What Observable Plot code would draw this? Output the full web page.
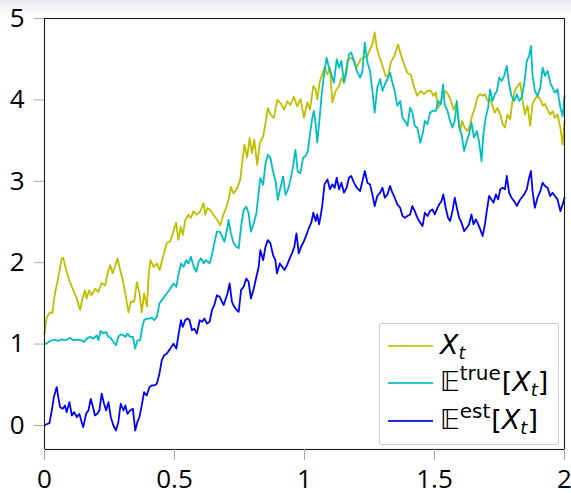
<!DOCTYPE html>
<html>
<head>
<meta charset="utf-8">
<script src="https://cdn.jsdelivr.net/npm/d3@7"></script>
<script src="https://cdn.jsdelivr.net/npm/@observablehq/plot@0.6"></script>
<style>
  html, body { margin: 0; padding: 0; }
  body { width: 571px; height: 493px; background: linear-gradient(to bottom, #e8eaf4 0px, #ffffff 16px, #ffffff 100%); overflow: hidden; }
  #wrap { position: relative; width: 571px; height: 493px; }
  #legend { position: absolute; left: 379px; top: 323px; width: 178px; height: 120px; border: 1px solid #cfcfcf; border-radius: 2px; background: rgba(255,255,255,0.9); font-family: "DejaVu Sans", sans-serif; color: #000; }
  .entry { position: absolute; left: 8px; height: 36px; display: flex; align-items: center; white-space: nowrap; }
  .swatch { display: inline-block; width: 45px; height: 2px; margin-right: 7px; opacity: 0.85; }
  .lab { font-size: 27px; line-height: 36px; }
  .lab i { font-style: oblique; }
  .lab .sb { font-size: 18px; position: relative; top: 5px; }
  .lab .sp { font-size: 20px; position: relative; top: -11px; margin-right: 1px; }
</style>
</head>
<body>
<div id="wrap"></div>
<script>
const seriesNames = ["X_t", "E_true", "E_est"];
const seriesColors = ["#bfbf00", "#00bfbf", "#0000ff"];
const xTicks = [0, 0.5, 1, 1.5, 2];
const xTickLabels = ["0", "0.5", "1", "1.5", "2"];
const yTicks = [0, 1, 2, 3, 4, 5];
const yTickLabels = ["0", "1", "2", "3", "4", "5"];

const xtT = [0,0.008,0.021,0.03,0.04,0.053,0.066,0.072,0.083,0.098,0.111,0.124,0.137,0.146,0.156,0.162,0.172,0.181,0.195,0.207,0.22,0.233,0.246,0.253,0.262,0.271,0.281,0.291,0.301,0.311,0.323,0.332,0.345,0.355,0.365,0.374,0.383,0.394,0.4,0.407,0.42,0.433,0.443,0.452,0.46,0.47,0.484,0.497,0.506,0.515,0.524,0.532,0.541,0.554,0.563,0.573,0.586,0.599,0.612,0.618,0.627,0.637,0.65,0.663,0.676,0.689,0.699,0.708,0.717,0.727,0.74,0.753,0.76,0.769,0.779,0.789,0.798,0.807,0.818,0.828,0.841,0.85,0.859,0.869,0.882,0.895,0.908,0.921,0.934,0.946,0.959,0.972,0.985,0.998,1.011,1.021,1.034,1.043,1.049,1.059,1.068,1.077,1.088,1.098,1.107,1.12,1.133,1.142,1.152,1.165,1.178,1.19,1.201,1.216,1.229,1.242,1.252,1.261,1.27,1.278,1.287,1.3,1.312,1.321,1.332,1.345,1.36,1.37,1.383,1.396,1.409,1.422,1.434,1.447,1.46,1.473,1.486,1.496,1.505,1.514,1.524,1.534,1.543,1.552,1.563,1.573,1.582,1.591,1.599,1.607,1.616,1.627,1.637,1.646,1.655,1.665,1.676,1.685,1.694,1.704,1.714,1.723,1.732,1.742,1.753,1.762,1.771,1.781,1.791,1.8,1.809,1.819,1.83,1.839,1.848,1.858,1.868,1.877,1.886,1.896,1.907,1.916,1.925,1.935,1.945,1.954,1.963,1.973,1.984,1.993,2.0];
const xtV = [1.12,1.32,1.39,1.38,1.62,1.82,2.05,2.06,1.91,1.76,1.66,1.56,1.42,1.56,1.66,1.56,1.66,1.6,1.68,1.64,1.75,1.72,1.91,1.97,1.87,1.95,2.05,1.91,1.79,1.62,1.39,1.52,1.52,1.76,1.63,1.39,1.62,1.46,1.82,2.03,1.95,1.99,1.91,2.03,2.12,2.24,2.26,2.4,2.49,2.28,2.44,2.34,2.52,2.59,2.55,2.63,2.59,2.63,2.73,2.59,2.67,2.65,2.59,2.53,2.46,2.6,2.68,2.77,2.93,2.85,2.91,3.02,3.22,3.45,3.29,3.53,3.35,3.51,3.2,3.47,3.55,3.72,3.9,3.82,3.78,4.0,3.96,3.88,3.98,3.94,4.04,3.92,4.01,3.78,3.97,3.88,4.17,4.13,4.01,4.23,4.31,4.4,4.31,4.4,3.97,4.11,4.17,4.27,4.21,4.48,4.52,4.48,4.4,4.5,4.52,4.54,4.62,4.68,4.83,4.64,4.54,4.42,4.29,4.29,4.46,4.54,4.68,4.56,4.44,4.33,4.31,4.15,4.05,4.11,4.07,4.11,4.11,4.05,4.09,3.9,3.97,4.05,4.11,4.07,3.99,3.88,3.95,3.78,3.62,3.74,3.66,3.62,3.7,3.82,3.9,4.03,4.07,4.05,4.07,3.99,4.01,3.93,3.84,3.9,3.82,3.7,3.66,3.82,3.76,3.99,4.11,4.17,4.21,3.99,3.82,3.93,3.68,3.95,4.01,4.05,4.01,3.93,3.95,3.88,3.82,3.86,3.78,3.82,3.66,3.45,3.74];

const trueT = [0,0.006,0.021,0.04,0.053,0.066,0.079,0.098,0.111,0.126,0.143,0.152,0.162,0.175,0.188,0.201,0.207,0.216,0.227,0.237,0.246,0.255,0.265,0.275,0.284,0.293,0.304,0.311,0.319,0.329,0.34,0.349,0.357,0.368,0.374,0.383,0.393,0.404,0.413,0.422,0.432,0.442,0.451,0.46,0.47,0.484,0.496,0.507,0.516,0.525,0.535,0.545,0.554,0.563,0.574,0.584,0.593,0.602,0.612,0.62,0.635,0.644,0.653,0.663,0.674,0.683,0.692,0.702,0.708,0.717,0.728,0.738,0.747,0.756,0.766,0.776,0.785,0.794,0.805,0.815,0.824,0.83,0.841,0.85,0.859,0.869,0.879,0.889,0.897,0.907,0.918,0.927,0.936,0.946,0.956,0.965,0.974,0.984,0.995,1.004,1.013,1.021,1.03,1.036,1.043,1.049,1.056,1.065,1.075,1.085,1.094,1.103,1.113,1.124,1.133,1.142,1.152,1.162,1.171,1.18,1.19,1.201,1.214,1.223,1.232,1.242,1.252,1.261,1.27,1.28,1.291,1.3,1.309,1.319,1.329,1.338,1.347,1.357,1.368,1.377,1.386,1.396,1.406,1.415,1.424,1.434,1.445,1.454,1.463,1.473,1.483,1.492,1.505,1.514,1.524,1.533,1.539,1.55,1.56,1.569,1.578,1.586,1.595,1.604,1.614,1.624,1.633,1.642,1.652,1.663,1.672,1.681,1.688,1.697,1.706,1.714,1.723,1.732,1.74,1.749,1.758,1.768,1.778,1.787,1.796,1.806,1.817,1.826,1.835,1.845,1.855,1.864,1.871,1.877,1.886,1.896,1.907,1.916,1.925,1.935,1.945,1.954,1.963,1.973,1.984,1.993,2.0];
const trueV = [1.0,1.005,1.038,1.055,1.038,1.059,1.046,1.075,1.046,1.055,1.046,1.026,1.067,1.088,1.067,1.108,1.046,1.161,1.129,1.149,1.088,1.075,1.026,0.985,1.088,1.12,1.108,1.088,1.129,1.088,1.088,0.944,1.046,1.046,1.17,1.293,1.313,1.313,1.326,1.293,1.334,1.498,1.539,1.58,1.621,1.683,1.745,1.704,1.868,1.991,1.95,2.032,1.991,2.073,1.95,1.889,2.012,2.053,1.991,2.032,1.991,2.094,2.237,2.381,2.381,2.32,2.258,2.401,2.525,2.36,2.237,2.196,2.176,2.443,2.648,2.689,2.607,2.381,2.484,2.607,2.874,3.038,2.956,3.222,3.325,3.284,3.12,2.997,2.771,2.915,3.058,2.833,2.894,3.017,3.181,3.387,3.12,3.1,3.29,3.31,3.372,3.577,3.782,3.864,3.7,3.475,3.7,4.028,4.315,4.52,4.397,4.315,4.213,4.5,4.397,4.479,4.213,4.356,4.561,4.582,4.479,4.356,4.274,4.356,4.705,4.459,4.356,4.11,3.843,4.151,4.254,4.11,4.192,4.254,4.336,4.213,4.11,3.926,3.987,3.782,3.741,3.68,3.905,3.843,3.68,3.659,3.475,3.577,3.741,3.7,3.843,3.864,3.864,3.987,3.946,4.192,3.946,3.864,3.741,3.659,3.741,3.987,3.659,3.577,3.372,3.495,3.577,3.721,3.536,3.618,3.475,3.249,3.577,3.782,3.905,4.13,3.987,4.069,4.11,4.274,4.233,4.295,4.417,4.192,4.049,3.987,4.069,3.987,4.028,4.192,4.479,4.54,4.664,4.315,4.11,4.049,4.151,4.397,4.295,4.356,4.213,4.151,4.09,4.13,3.905,3.8,4.05];

const estT = [0,0.006,0.019,0.028,0.036,0.047,0.053,0.06,0.07,0.079,0.085,0.096,0.105,0.114,0.124,0.134,0.143,0.149,0.16,0.169,0.178,0.188,0.194,0.203,0.211,0.22,0.229,0.237,0.246,0.255,0.265,0.275,0.284,0.293,0.304,0.311,0.319,0.329,0.34,0.349,0.357,0.365,0.374,0.383,0.393,0.404,0.413,0.422,0.432,0.442,0.451,0.46,0.47,0.484,0.496,0.507,0.516,0.525,0.532,0.541,0.55,0.558,0.567,0.576,0.586,0.597,0.606,0.615,0.625,0.635,0.644,0.653,0.663,0.674,0.683,0.689,0.695,0.704,0.712,0.721,0.73,0.74,0.747,0.756,0.766,0.776,0.785,0.794,0.805,0.815,0.824,0.83,0.841,0.85,0.859,0.869,0.879,0.888,0.894,0.905,0.914,0.923,0.933,0.943,0.952,0.961,0.969,0.978,0.987,0.998,1.008,1.017,1.026,1.034,1.043,1.049,1.056,1.062,1.068,1.077,1.088,1.098,1.107,1.116,1.124,1.133,1.142,1.152,1.162,1.171,1.18,1.19,1.201,1.214,1.223,1.232,1.242,1.252,1.261,1.27,1.28,1.291,1.3,1.309,1.319,1.329,1.338,1.347,1.357,1.368,1.377,1.386,1.396,1.406,1.415,1.424,1.434,1.445,1.454,1.463,1.473,1.483,1.492,1.501,1.509,1.518,1.527,1.534,1.543,1.552,1.56,1.569,1.578,1.586,1.595,1.604,1.614,1.624,1.633,1.642,1.65,1.659,1.668,1.676,1.685,1.694,1.701,1.71,1.719,1.727,1.736,1.745,1.753,1.762,1.771,1.778,1.787,1.796,1.806,1.817,1.826,1.835,1.845,1.855,1.864,1.871,1.877,1.886,1.896,1.907,1.916,1.925,1.935,1.945,1.954,1.963,1.973,1.984,1.993,2.0];
const estV = [0.0,0.012,0.028,0.184,0.349,0.472,0.349,0.225,0.205,0.246,0.164,0.287,0.123,0.164,0.102,0.143,0.041,-0.021,0.143,0.184,0.328,0.205,0.123,0.143,0.184,0.39,0.267,0.184,0.287,0.102,0.0,-0.062,0.041,0.267,0.184,0.246,0.143,0.184,0.205,-0.062,0.041,0.102,0.246,0.41,0.369,0.472,0.492,0.492,0.513,0.636,0.8,0.862,0.882,0.944,1.006,0.944,1.129,1.293,1.211,1.293,1.314,1.293,1.17,1.19,1.129,1.293,1.273,1.314,1.252,1.273,1.416,1.478,1.601,1.58,1.519,1.478,1.539,1.621,1.745,1.519,1.457,1.416,1.396,1.663,1.704,1.806,1.765,1.56,1.683,1.827,1.95,2.155,2.032,2.196,2.278,2.237,2.094,2.032,1.868,1.991,1.95,1.909,1.97,2.053,2.114,2.196,2.36,2.114,2.196,2.265,2.347,2.429,2.491,2.614,2.511,2.593,2.47,2.573,2.696,2.962,3.024,2.901,2.962,2.921,3.044,2.901,2.983,2.86,2.921,3.044,3.065,2.983,2.921,2.88,3.003,3.126,2.983,2.962,2.839,2.696,2.819,2.86,2.921,2.798,2.839,2.942,2.86,2.798,2.716,2.675,2.573,2.552,2.573,2.593,2.696,2.634,2.552,2.491,2.45,2.614,2.573,2.634,2.655,2.593,2.655,2.716,2.757,2.839,2.675,2.552,2.511,2.634,2.798,2.675,2.552,2.491,2.388,2.429,2.47,2.593,2.47,2.532,2.47,2.409,2.327,2.47,2.634,2.819,2.778,2.737,2.839,2.778,2.901,2.921,2.901,3.065,2.86,2.798,2.757,2.696,2.757,2.798,2.839,2.901,3.044,3.126,2.88,2.675,2.798,2.88,2.983,2.942,2.921,2.819,2.86,2.819,2.778,2.634,2.716,2.798];

const data = [
  ...xtT.map((t, i) => ({t, v: xtV[i], s: seriesNames[0]})),
  ...trueT.map((t, i) => ({t, v: trueV[i], s: seriesNames[1]})),
  ...estT.map((t, i) => ({t, v: estV[i], s: seriesNames[2]}))
];

const chart = Plot.plot({
  width: 571,
  height: 493,
  marginLeft: 44,
  marginRight: 7,
  marginTop: 18,
  marginBottom: 44,
  style: { fontFamily: "'Open Sans', 'DejaVu Sans', sans-serif", fontSize: "26px", background: "transparent", overflow: "visible", color: "#000" },
  x: { domain: [0, 2], label: null },
  y: { domain: [-0.295, 5], label: null },
  color: { domain: seriesNames, range: seriesColors },
  marks: [
    Plot.line(data, { x: "t", y: "v", z: "s", stroke: "s", strokeWidth: 1.8, strokeLinejoin: "round" }),
    Plot.frame({ stroke: "#1a1a1a", strokeWidth: 1.1 }),
    Plot.axisX({ ticks: xTicks, tickFormat: (d, i) => xTickLabels[i], tickSize: 11, tickPadding: 9, stroke: "#aaaaaa", fill: "#000", label: null }),
    Plot.axisY({ ticks: yTicks, tickFormat: (d, i) => yTickLabels[i], tickSize: 10, tickPadding: 10, stroke: "#aaaaaa", fill: "#000", label: null })
  ]
});

const wrap = document.getElementById("wrap");
wrap.appendChild(chart);

const legend = document.createElement("div");
legend.id = "legend";
const rows = [
  { top: 4, html: '<i>X</i><i class="sb">t</i>' },
  { top: 41, html: '𝔼<span class="sp">true</span>[<i>X</i><i class="sb">t</i>]' },
  { top: 79, html: '𝔼<span class="sp">est</span>[<i>X</i><i class="sb">t</i>]' }
];
rows.forEach((r, i) => {
  const e = document.createElement("div");
  e.className = "entry";
  e.style.top = r.top + "px";
  const sw = document.createElement("span");
  sw.className = "swatch";
  sw.style.background = seriesColors[i];
  const lab = document.createElement("span");
  lab.className = "lab";
  lab.innerHTML = r.html;
  e.appendChild(sw);
  e.appendChild(lab);
  legend.appendChild(e);
});
wrap.appendChild(legend);
</script>
</body>
</html>
